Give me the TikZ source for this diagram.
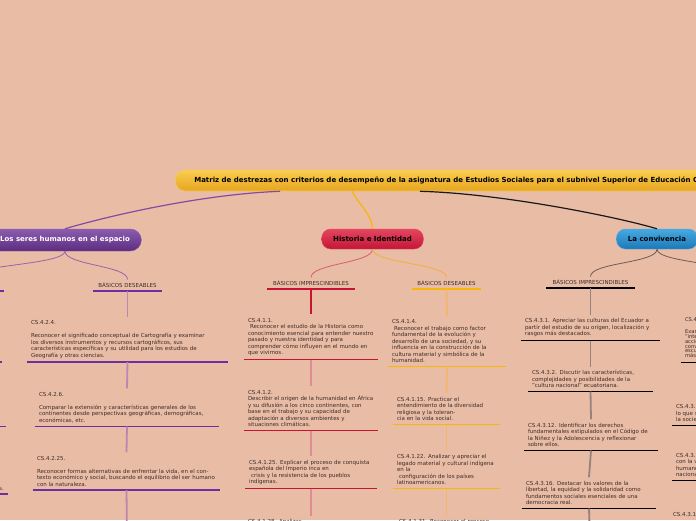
\documentclass[tikz,border=0pt]{standalone}
\usepackage{fontspec}
\setmainfont{DejaVu Sans}
\definecolor{fondo}{RGB}{233,188,166}
\definecolor{tinta}{RGB}{60,45,40}
\definecolor{titsup}{RGB}{250,205,80}
\definecolor{titinf}{RGB}{230,165,30}
\definecolor{titborde}{RGB}{245,200,90}
\definecolor{morsup}{RGB}{140,92,175}
\definecolor{morinf}{RGB}{92,44,128}
\definecolor{mor}{RGB}{107,47,160}
\definecolor{morclaro}{RGB}{185,135,175}
\definecolor{morcurva}{RGB}{150,100,170}
\definecolor{rojosup}{RGB}{228,70,95}
\definecolor{rojoinf}{RGB}{195,22,55}
\definecolor{rojo}{RGB}{200,20,50}
\definecolor{rojoclaro}{RGB}{222,140,150}
\definecolor{rojocurva}{RGB}{215,95,110}
\definecolor{ama}{RGB}{247,182,10}
\definecolor{amaclaro}{RGB}{242,182,110}
\definecolor{amacurva}{RGB}{240,175,60}
\definecolor{azulsup}{RGB}{70,170,225}
\definecolor{azulinf}{RGB}{28,120,185}
\definecolor{gris}{RGB}{150,130,128}
\definecolor{griscurva}{RGB}{110,90,90}
\begin{document}
\begin{tikzpicture}[x=1pt,y=-1pt,
	txt/.style={font=\fontsize{5.5}{6.5}\selectfont,text=tinta},
	cbox/.style={txt,text width=#1,align=left,inner xsep=4pt,inner ysep=3.5pt},
	lbl/.style={txt,minimum width=#1,inner xsep=4pt,inner ysep=3pt},
	rama/.style={rounded corners=9pt,font=\fontsize{7}{8}\selectfont\bfseries,inner xsep=11.5pt,minimum height=20pt},
	umor/.style={mor,line width=1.4pt},
	urojo/.style={rojo,line width=1.4pt},
	uama/.style={ama,line width=1.4pt},
	unegro/.style={black,line width=1.3pt},
	]
	\fill[fondo] (0,0) rectangle (696,520);
	\useasboundingbox (0,0) rectangle (696,520);
	
	\node[rama,anchor=west,minimum height=21pt,rounded corners=10pt,inner xsep=19pt,top color=titsup,bottom color=titinf,draw=titborde,line width=.6pt] (mt) at (175,180.5) {Matriz de destrezas con criterios de desempeño de la asignatura de Estudios Sociales para el subnivel Superior de Educación General Básica};
	\node[rama,minimum height=22pt,rounded corners=11pt,top color=morsup,bottom color=morinf,draw=morsup,text=white] (pb) at (65,240) {Los seres humanos en el espacio};
	\node[rama,top color=rojosup,bottom color=rojoinf,draw=rojosup,text=black] (hi) at (372.5,239) {Historia e Identidad};
	\node[rama,top color=azulsup,bottom color=azulinf,draw=azulsup,text=black] (lc) at (657,239) {La convivencia};
	
	\draw[mor!80!fondo,line width=1.2pt] ([xshift=105pt]mt.south west) .. controls +(-80,3) and +(40,-12) .. (pb.north);
	\draw[ama,line width=1.2pt] ([xshift=177pt]mt.south west) .. controls +(6,12) and +(0,-14) .. (hi.north);
	\draw[black!90,line width=1.2pt] ([xshift=245pt]mt.south west) .. controls +(80,2) and +(-40,-12) .. (lc.north);
	
	\node[lbl=88pt,anchor=south east] (pi) at (4,291) {BÁSICOS IMPRESCINDIBLES};
	\node[lbl=69pt,anchor=south] (pd) at (127.5,291) {BÁSICOS DESEABLES};
	\node[lbl=88pt,anchor=south] (ri) at (311,289) {BÁSICOS IMPRESCINDIBLES};
	\node[lbl=69pt,anchor=south] (yd) at (446.5,289) {BÁSICOS DESEABLES};
	\node[lbl=89pt,anchor=south] (bi) at (590.5,288) {BÁSICOS IMPRESCINDIBLES};
	\node[lbl=69pt,anchor=south] (bd) at (745,289) {BÁSICOS DESEABLES};
	
	\draw[morcurva,line width=.8pt] (pb.south) .. controls +(0,14) and +(0,-14) .. (pi.north);
	\draw[morcurva,line width=.8pt] (pb.south) .. controls +(0,14) and +(0,-14) .. (pd.north);
	\draw[rojocurva,line width=.8pt] (hi.south) .. controls +(0,14) and +(0,-14) .. (ri.north);
	\draw[amacurva,line width=.8pt] (hi.south) .. controls +(0,14) and +(0,-14) .. (yd.north);
	\draw[griscurva,line width=.8pt] (lc.south) .. controls +(0,14) and +(0,-14) .. (bi.north);
	\draw[griscurva,line width=.8pt] (lc.south) .. controls +(0,14) and +(0,-14) .. (bd.north);
	
	\node[txt,minimum width=150pt,minimum height=40pt,anchor=south east] (q1) at (2,362) {};
	\node[txt,minimum width=150pt,minimum height=40pt,anchor=south east] (q2) at (6,426.5) {};
	\node[cbox=60pt,align=right,anchor=south east] (q3) at (8,494) {s.};
	
	\node[cbox=193pt,anchor=south] (p1) at (127.5,362) {CS.4.2.4.\\[6.5pt]Reconocer el significado conceptual de Cartografía y examinar\\los diversos instrumentos y recursos cartográficos, sus\\características específicas y su utilidad para los estudios de\\Geografía y otras ciencias.};
	\node[cbox=176pt,anchor=south] (p2) at (127,426.5) {CS.4.2.6.\\[6.5pt]Comparar la extensión y características generales de los\\continentes desde perspectivas geográficas, demográficas,\\económicas, etc.};
	\node[cbox=179pt,anchor=south] (p3) at (126.5,490) {CS.4.2.25.\\[6.5pt]Reconocer formas alternativas de enfrentar la vida, en el con-\\texto económico y social, buscando el equilibrio del ser humano\\con la naturaleza.};
	\coordinate (p4) at (127,535);
	
	\node[cbox=126pt,anchor=south] (r1) at (311,359.5) {CS.4.1.1.\\\hspace*{2pt}Reconocer el estudio de la Historia como\\conocimiento esencial para entender nuestro\\pasado y nuestra identidad y para\\comprender cómo influyen en el mundo en\\que vivimos.};
	\node[cbox=126pt,anchor=south] (r2) at (311,430.5) {CS.4.1.2.\\Describir el origen de la humanidad en África\\y su difusión a los cinco continentes, con\\base en el trabajo y su capacidad de\\adaptación a diversos ambientes y\\situaciones climáticas.};
	\node[cbox=124pt,anchor=south] (r3) at (311,488.5) {CS.4.1.25. Explicar el proceso de conquista\\española del Imperio inca en\\\hspace*{2pt}crisis y la resistencia de los pueblos\\indígenas.};
	\node[cbox=126pt,anchor=north] (r4) at (311,516) {CS.4.1.28. Analizar\\el proceso};
	
	\node[cbox=110pt,anchor=south] (y1) at (447,366.5) {CS.4.1.4.\\\hspace*{2pt}Reconocer el trabajo como factor\\fundamental de la evolución y\\desarrollo de una sociedad, y su\\influencia en la construcción de la\\cultura material y simbólica de la\\humanidad.};
	\node[cbox=99pt,anchor=south] (y2) at (446.5,424.5) {CS.4.1.15. Practicar el\\entendimiento de la diversidad\\religiosa y la toleran-\\cia en la vida social.};
	\node[cbox=99pt,anchor=south] (y3) at (446.5,488.5) {CS.4.1.22. Analizar y apreciar el\\legado material y cultural indígena\\en la\\\hspace*{2pt}configuración de los países\\latinoamericanos.};
	\node[cbox=99pt,anchor=north] (y4) at (446.5,516) {\hspace*{2pt}CS.4.1.31. Reconocer el proceso\\de};
	
	\node[cbox=131pt,anchor=south] (b1) at (590.5,340.5) {CS.4.3.1. Apreciar las culturas del Ecuador a\\partir del estudio de su origen, localización y\\rasgos más destacados.};
	\node[cbox=117pt,anchor=south] (b2) at (590.5,391.5) {CS.4.3.2. Discutir las características,\\complejidades y posibilidades de la\\"cultura nacional" ecuatoriana.};
	\node[cbox=126pt,anchor=south] (b3) at (591,450.5) {CS.4.3.12. Identificar los derechos\\fundamentales estipulados en el Código de\\la Niñez y la Adolescencia y reflexionar\\sobre ellos.};
	\node[cbox=126pt,anchor=south] (b4) at (589,508.5) {CS.4.3.16. Destacar los valores de la\\libertad, la equidad y la solidaridad como\\fundamentos sociales esenciales de una\\democracia real.};
	\coordinate (b5) at (590,540);
	
	\node[cbox=120pt,anchor=south,font={\fontsize{5.2}{4.8}\selectfont\lineskiplimit=-5pt}] (c1) at (745,362.5) {CS.4.3.4.\\[7pt]Examinar la diversidad\\"interculturalidad"\\acciones de respeto\\convivencia\\escuela y comunidad\\más amplia.};
	\node[cbox=138pt,anchor=south] (c2) at (745,425.5) {CS.4.3.7. Reconocer la\\lo que significa\\la sociedad.};
	\node[cbox=138pt,anchor=south] (c3) at (745,480.5) {CS.4.3.13. Relacionar\\con la vida\\humano y\\nacional.};
	\node[cbox=144pt,anchor=north] (c4) at (745,509) {CS.4.3.17.};
	
	\draw[umor] (pi.south west) -- (pi.south east);
	\draw[umor] (q1.south west) -- (q1.south east);
	\draw[umor] (q2.south west) -- (q2.south east);
	\draw[umor] (q3.south west) -- (q3.south east);
	\draw[umor] (pd.south west) -- (pd.south east);
	\draw[umor] (p1.south west) -- (p1.south east);
	\draw[umor] (p2.south west) -- (p2.south east);
	\draw[umor] (p3.south west) -- (p3.south east);
	\draw[urojo] (ri.south west) -- (ri.south east);
	\draw[urojo] (r1.south west) -- (r1.south east);
	\draw[urojo] (r2.south west) -- (r2.south east);
	\draw[urojo] (r3.south west) -- (r3.south east);
	\draw[uama] (yd.south west) -- (yd.south east);
	\draw[uama] (y1.south west) -- (y1.south east);
	\draw[uama] (y2.south west) -- (y2.south east);
	\draw[uama] (y3.south west) -- (y3.south east);
	\draw[unegro] (bi.south west) -- (bi.south east);
	\draw[unegro] (b1.south west) -- (b1.south east);
	\draw[unegro] (b2.south west) -- (b2.south east);
	\draw[unegro] (b3.south west) -- (b3.south east);
	\draw[unegro] (b4.south west) -- (b4.south east);
	\draw[unegro] (bd.south west) -- (bd.south east);
	\draw[unegro] (c1.south west) -- (c1.south east);
	\draw[unegro] (c2.south west) -- (c2.south east);
	\draw[unegro] (c3.south west) -- (c3.south east);
	
	\draw[morclaro,line width=1.8pt] (pd.south) -- (p1.north);
	\draw[morclaro,line width=1.8pt] (p1.south) -- (p2.north);
	\draw[morclaro,line width=1.8pt] (p2.south) -- (p3.north);
	\draw[morclaro,line width=1.8pt] (p3.south) -- (p4);
	\draw[rojo,line width=1.8pt] (ri.south) -- (r1.north);
	\draw[rojoclaro,line width=1.8pt] (r1.south) -- (r2.north);
	\draw[rojoclaro,line width=1.8pt] (r2.south) -- (r3.north);
	\draw[rojoclaro,line width=1.8pt] (r3.south) -- (r4.north);
	\draw[amaclaro,line width=1.8pt] (yd.south) -- (y1.north);
	\draw[amaclaro,line width=1.8pt] (y1.south) -- (y2.north);
	\draw[amaclaro,line width=1.8pt] (y2.south) -- (y3.north);
	\draw[amaclaro,line width=1.8pt] (y3.south) -- (y4.north);
	\draw[gris,line width=1.8pt] (bi.south) -- (b1.north);
	\draw[gris,line width=1.8pt] (b1.south) -- (b2.north);
	\draw[gris,line width=1.8pt] (b2.south) -- (b3.north);
	\draw[gris,line width=1.8pt] (b3.south) -- (b4.north);
	\draw[gris,line width=1.8pt] (b4.south) -- (b5);
\end{tikzpicture}
\end{document}
